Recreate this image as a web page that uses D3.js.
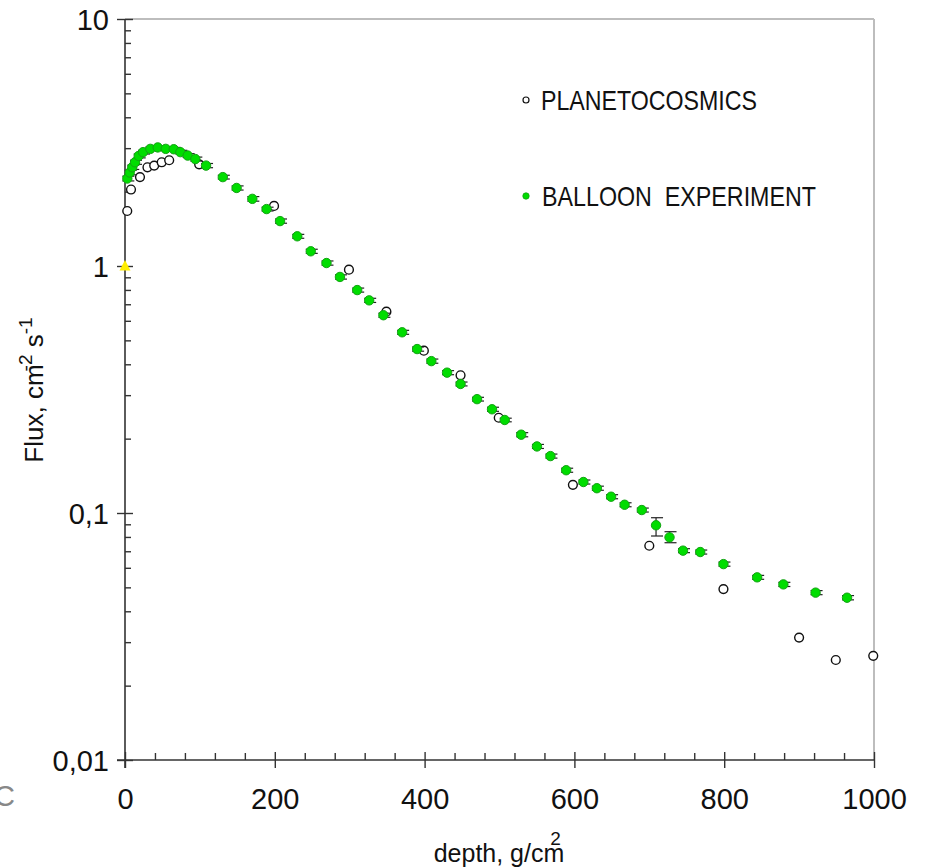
<!DOCTYPE html>
<html>
<head>
<meta charset="utf-8">
<script src="https://cdn.jsdelivr.net/npm/d3@7"></script>
<style>
  html, body { margin: 0; padding: 0; background: #fff; }
  svg { display: block; }
  text { font-family: "Liberation Sans", Arial, sans-serif; fill: #111; }
</style>
</head>
<body>
<svg id="chart" width="930" height="868"></svg>
<script>
// ---- data ----
const planetoDepth = [3, 8, 20, 30, 39, 49, 59, 99, 199, 299, 349, 399, 448, 499, 598, 700, 799, 900, 949, 999];
const planetoFlux  = [1.67, 2.04, 2.29, 2.51, 2.55, 2.63, 2.68, 2.58, 1.75, 0.966, 0.653, 0.454, 0.361, 0.243, 0.130, 0.0737, 0.0492, 0.0313, 0.0254, 0.0264];

const balloonDepth = [3.1, 6.3, 9.7, 13.4, 18.3, 24.1, 33.8, 43.7, 54.4, 65.1, 73.9, 83.7, 93.9, 108.2, 130.6, 149, 170, 189, 207, 230, 248, 269, 287, 310, 326, 345, 370, 390, 409, 430, 448, 470, 490, 507, 529, 550, 568, 589, 612, 630, 649, 667, 690, 709, 727, 745, 768, 799, 844, 879, 922, 964];
const balloonFlux  = [2.26, 2.39, 2.51, 2.63, 2.79, 2.89, 2.98, 3.02, 2.98, 2.97, 2.89, 2.80, 2.71, 2.55, 2.29, 2.07, 1.87, 1.70, 1.52, 1.319, 1.147, 1.028, 0.903, 0.799, 0.726, 0.632, 0.539, 0.461, 0.412, 0.370, 0.333, 0.289, 0.263, 0.238, 0.2075, 0.186, 0.170, 0.149, 0.1335, 0.126, 0.1164, 0.108, 0.1028, 0.0892, 0.0797, 0.0704, 0.0695, 0.0621, 0.0549, 0.0514, 0.0476, 0.0454];
const balloonErrLo = [2.21, 2.34, 2.46, 2.58, 2.74, 2.84, 2.93, 2.97, 2.93, 2.92, 2.84, 2.75, 2.66, 2.50, 2.25, 2.03, 1.83, 1.67, 1.49, 1.295, 1.125, 1.008, 0.885, 0.784, 0.712, 0.620, 0.529, 0.452, 0.404, 0.363, 0.327, 0.284, 0.258, 0.234, 0.2035, 0.1825, 0.1668, 0.1462, 0.1310, 0.1236, 0.1142, 0.1060, 0.1009, 0.0807, 0.0758, 0.0691, 0.0682, 0.0609, 0.0539, 0.0504, 0.0467, 0.0445];
const balloonErrHi = [2.31, 2.44, 2.56, 2.68, 2.84, 2.94, 3.03, 3.07, 3.03, 3.02, 2.94, 2.85, 2.76, 2.60, 2.33, 2.11, 1.91, 1.73, 1.55, 1.343, 1.169, 1.048, 0.921, 0.814, 0.740, 0.644, 0.549, 0.470, 0.420, 0.377, 0.339, 0.294, 0.268, 0.242, 0.2115, 0.1895, 0.1732, 0.1518, 0.1360, 0.1284, 0.1186, 0.1100, 0.1047, 0.0957, 0.0840, 0.0717, 0.0708, 0.0633, 0.0559, 0.0524, 0.0485, 0.0463];

const markerDepth = [0];
const markerFlux = [1.0];

const xMajorTicks = [0, 200, 400, 600, 800, 1000];
const xTickLabels = ["0", "200", "400", "600", "800", "1000"];
const yMajorTicks = [0.01, 0.1, 1, 10];
const yTickLabels = ["0,01", "0,1", "1", "10"];
const legendLabels = ["PLANETOCOSMICS", "BALLOON  EXPERIMENT"];

// ---- scales ----
const svg = d3.select("#chart");
const x = d3.scaleLinear().domain([0, 1000]).range([125, 874]);
const y = d3.scaleLog().domain([0.01, 10]).range([760, 19]);

const xMinor = d3.range(0, 1001, 40).filter(v => xMajorTicks.indexOf(v) < 0);
const yMinor = [];
[0.01, 0.1, 1].forEach(d => { for (let k = 2; k <= 9; k++) yMinor.push(+(d * k).toPrecision(3)); });

// frame (gray top & right)
svg.append("line").attr("x1", x(0)).attr("x2", x(1000)).attr("y1", y(10)).attr("y2", y(10))
  .attr("stroke", "#bdbdbd").attr("stroke-width", 2);
svg.append("line").attr("x1", x(1000)).attr("x2", x(1000)).attr("y1", y(10)).attr("y2", y(0.01))
  .attr("stroke", "#bdbdbd").attr("stroke-width", 2);

// x axis
const gx = svg.append("g").attr("transform", `translate(0,${y(0.01)})`);
gx.call(d3.axisBottom(x).tickValues(xMinor).tickSize(-7).tickFormat(""));
const gxM = svg.append("g").attr("transform", `translate(0,${y(0.01)})`);
gxM.call(d3.axisBottom(x).tickValues(xMajorTicks).tickSize(8).tickPadding(20)
  .tickFormat((d, i) => xTickLabels[i]));
gxM.selectAll(".tick line").attr("y1", -8);
[gx, gxM].forEach(g => {
  g.select(".domain").remove();
  g.selectAll(".tick line").attr("stroke", "#333").attr("stroke-width", 1.4);
});
gxM.selectAll(".tick text").attr("font-size", 29).attr("fill", "#111")
  .attr("font-family", "Liberation Sans, Arial, sans-serif");
svg.append("line").attr("x1", 117).attr("x2", x(1000)).attr("y1", y(0.01)).attr("y2", y(0.01))
  .attr("stroke", "#333").attr("stroke-width", 1.6);

// y axis
const gy = svg.append("g").attr("transform", `translate(${x(0)},0)`);
gy.call(d3.axisLeft(y).tickValues(yMinor).tickSize(-6).tickFormat(""));
const gyM = svg.append("g").attr("transform", `translate(${x(0)},0)`);
gyM.call(d3.axisLeft(y).tickValues(yMajorTicks).tickSize(8).tickPadding(8)
  .tickFormat((d, i) => yTickLabels[i]));
gyM.selectAll(".tick line").attr("x1", 8);
[gy, gyM].forEach(g => {
  g.select(".domain").remove();
  g.selectAll(".tick line").attr("stroke", "#333").attr("stroke-width", 1.4);
});
gyM.selectAll(".tick text").attr("font-size", 29).attr("fill", "#111")
  .attr("font-family", "Liberation Sans, Arial, sans-serif").attr("dy", "0.36em");
svg.append("line").attr("x1", x(0)).attr("x2", x(0)).attr("y1", y(10)).attr("y2", y(0.01) + 8)
  .attr("stroke", "#333").attr("stroke-width", 1.6);

// stray glyph at far left
svg.append("text").attr("x", -6).attr("y", 806).attr("font-size", 29)
  .style("fill", "#888").text("C");

// axis titles
const xt = svg.append("text").attr("x", 499).attr("y", 862).attr("text-anchor", "middle")
  .attr("font-size", 25);
xt.append("tspan").text("depth, g/cm");
xt.append("tspan").attr("dx", -14).attr("dy", -17).attr("font-size", 19).text("2");

const yt = svg.append("text").attr("transform", "translate(43,390) rotate(-90)")
  .attr("text-anchor", "middle").attr("font-size", 26);
yt.append("tspan").text("Flux, cm");
yt.append("tspan").attr("dx", -7).attr("dy", -11).attr("font-size", 19).text("-2");
yt.append("tspan").attr("dy", 11).text(" s");
yt.append("tspan").attr("dy", -11).attr("font-size", 19).text("-1");

// PLANETOCOSMICS (open circles)
svg.append("g").selectAll("circle").data(planetoDepth).join("circle")
  .attr("cx", (d) => x(d)).attr("cy", (d, i) => y(planetoFlux[i])).attr("r", 4.4)
  .attr("fill", "#fff").attr("stroke", "#111").attr("stroke-width", 1.4);

// Balloon error bars
const eb = svg.append("g").attr("stroke", "#222").attr("stroke-width", 1.2);
balloonDepth.forEach((d, i) => {
  const cx = x(d), lo = y(balloonErrLo[i]), hi = y(balloonErrHi[i]);
  eb.append("line").attr("x1", cx).attr("x2", cx).attr("y1", lo).attr("y2", hi);
  eb.append("line").attr("x1", cx - 5).attr("x2", cx + 7).attr("y1", lo).attr("y2", lo);
  eb.append("line").attr("x1", cx - 5).attr("x2", cx + 7).attr("y1", hi).attr("y2", hi);
});

// Balloon points
svg.append("g").selectAll("circle").data(balloonDepth).join("circle")
  .attr("cx", (d) => x(d)).attr("cy", (d, i) => y(balloonFlux[i])).attr("r", 4.7)
  .attr("fill", "#00dd00").attr("stroke", "#13a313").attr("stroke-width", 1);

// yellow triangle marker
svg.append("g").selectAll("path").data(markerDepth).join("path")
  .attr("transform", (d, i) => `translate(${x(d)},${y(markerFlux[i]) - 0.5})`)
  .attr("d", "M0,-5.5 L5.5,5 L-5.5,5 Z").attr("fill", "#ffee00");

// legend
const lg = svg.append("g");
lg.append("circle").attr("cx", 526).attr("cy", 100).attr("r", 3).attr("fill", "#fff")
  .attr("stroke", "#111").attr("stroke-width", 1.2);
lg.append("circle").attr("cx", 526).attr("cy", 196).attr("r", 3.2).attr("fill", "#00dd00")
  .attr("stroke", "#13a313").attr("stroke-width", 0.8);
lg.append("text").attr("x", 541).attr("y", 110).attr("font-size", 28)
  .attr("textLength", 216).attr("lengthAdjust", "spacingAndGlyphs")
  .text(legendLabels[0]);
lg.append("text").attr("x", 542).attr("y", 206).attr("font-size", 28)
  .attr("textLength", 274).attr("lengthAdjust", "spacingAndGlyphs")
  .attr("xml:space", "preserve").style("white-space", "pre")
  .text(legendLabels[1]);
</script>
</body>
</html>
